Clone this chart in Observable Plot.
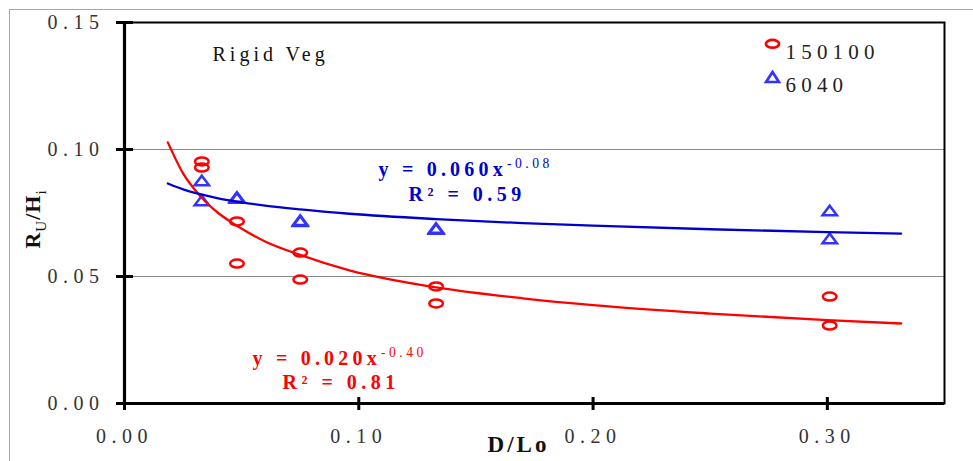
<!DOCTYPE html>
<html><head><meta charset="utf-8">
<script src="https://cdn.jsdelivr.net/npm/d3@7"></script>
<script src="https://cdn.jsdelivr.net/npm/@observablehq/plot@0.6"></script>
<style>
html,body{margin:0;padding:0;background:#fff;overflow:hidden;}
#wrap{position:relative;width:973px;height:461px;overflow:hidden;}
#border{position:absolute;left:9px;top:9px;width:1200px;height:800px;border-top:1.5px solid #a6a6a6;border-left:1.5px solid #a6a6a6;pointer-events:none;}
#wrap svg, #wrap svg text, #wrap svg tspan{font-family:'Liberation Serif','DejaVu Serif',serif !important;}
#wrap svg text{letter-spacing:5.5px;}
</style></head>
<body><div id="wrap"><div id="border"></div></div>
<script>
// ---- data ----
const seriesNames = ["150100", "6040"];
const x150100 = [0.033, 0.033, 0.048, 0.048, 0.075, 0.075, 0.133, 0.133, 0.301, 0.301];
const y150100 = [0.0953, 0.0929, 0.0717, 0.0551, 0.0594, 0.0488, 0.0461, 0.0394, 0.0421, 0.0307];
const x6040 = [0.033, 0.033, 0.048, 0.048, 0.075, 0.075, 0.133, 0.133, 0.301, 0.301];
const y6040 = [0.0878, 0.0799, 0.0813, 0.0809, 0.0722, 0.0718, 0.0691, 0.0687, 0.0760, 0.0650];
// trend lines (power fits)
const trendX = [0.0185, 0.025, 0.0323, 0.04, 0.048, 0.06, 0.075, 0.096, 0.133, 0.17, 0.2, 0.25, 0.3, 0.3315];
const trend150100 = [0.1028, 0.0906, 0.0817, 0.0750, 0.0700, 0.0638, 0.0585, 0.0524, 0.0457, 0.0414, 0.0387, 0.0354, 0.0328, 0.0315];
const trend6040 = [0.0866, 0.0843, 0.0824, 0.0808, 0.0795, 0.0779, 0.0764, 0.0747, 0.0726, 0.0710, 0.0700, 0.0686, 0.0675, 0.0669];
const xTicks = [0, 0.1, 0.2, 0.3];
const yTicks = [0, 0.05, 0.1, 0.15];
const gridTicks = [0.05, 0.1];
const panelLabel = "Rigid Veg";
const eq150100 = ["y = 0.020x^{-0.40}", "R² = 0.81"];
const eq6040 = ["y = 0.060x^{-0.08}", "R² = 0.59"];
const xLabel = "D/Lo";
const yLabel = "R_{U}/H_{i}";

// ---- build tables ----
const pts150100 = x150100.map((x, i) => ({x, y: y150100[i]}));
const pts6040 = x6040.map((x, i) => ({x, y: y6040[i]}));
const tr150100 = trendX.map((x, i) => ({x, y: trend150100[i]}));
const tr6040 = trendX.map((x, i) => ({x, y: trend6040[i]}));

const RED = "#ff0000", BLUE_LINE = "#0000cc", BLUE_MARK = "#3333ff";
const SERIF = "Liberation Serif, DejaVu Serif, serif";

function ellipseSym(rx, ry) {
  const k = 0.5523;
  return {draw(c) {
    c.moveTo(rx, 0);
    c.bezierCurveTo(rx, ry * k, rx * k, ry, 0, ry);
    c.bezierCurveTo(-rx * k, ry, -rx, ry * k, -rx, 0);
    c.bezierCurveTo(-rx, -ry * k, -rx * k, -ry, 0, -ry);
    c.bezierCurveTo(rx * k, -ry, rx, -ry * k, rx, 0);
    c.closePath();
  }};
}
function triSym(hw, hh) {
  return {draw(c) { c.moveTo(0, -hh); c.lineTo(hw, hh); c.lineTo(-hw, hh); c.closePath(); }};
}
const fmt2 = d3.format(".2f");

const plot = Plot.plot({
  width: 973, height: 461,
  marginLeft: 124, marginRight: 29, marginTop: 22, marginBottom: 58,
  style: {background: "white", overflow: "visible", fontFamily: SERIF},
  x: {domain: [0, 0.35], label: null},
  y: {domain: [0, 0.15], label: null},
  marks: [
    Plot.gridY(gridTicks, {stroke: "#8a8a8a", strokeOpacity: 1, strokeWidth: 1}),
    Plot.frame({stroke: "black", strokeWidth: 2}),
    Plot.ruleX([0], {stroke: "black", strokeWidth: 3.2}),
    Plot.ruleY([0], {stroke: "black", strokeWidth: 3}),
    Plot.axisY(yTicks, {label: null, tickSize: 8, tickPadding: 12, tickFormat: fmt2, fontSize: 20, fontFamily: SERIF, stroke: "black", fill: "#333", strokeWidth: 3}),
    Plot.axisY(yTicks, {label: null, tickSize: -9, tickFormat: () => "", stroke: "black", strokeWidth: 3}),
    Plot.axisX(xTicks, {label: null, tickSize: 7, tickPadding: 18, tickFormat: fmt2, fontSize: 20, fontFamily: SERIF, stroke: "black", fill: "#333", strokeWidth: 3}),
    Plot.axisX(xTicks, {label: null, tickSize: -6, tickFormat: () => "", stroke: "black", strokeWidth: 3}),
    Plot.dot(pts150100, {x: "x", y: "y", symbol: ellipseSym(6.8, 4.0), stroke: RED, strokeWidth: 2.5, fill: "none"}),
    Plot.dot(pts6040, {x: "x", y: "y", symbol: triSym(7.2, 4.8), stroke: BLUE_MARK, strokeWidth: 2.5, fill: "none"}),
    Plot.line(tr150100, {x: "x", y: "y", stroke: RED, strokeWidth: 2.3, curve: "monotone-x"}),
    Plot.line(tr6040, {x: "x", y: "y", stroke: BLUE_LINE, strokeWidth: 2.3, curve: "monotone-x"}),
    // panel label
    Plot.text([panelLabel], {text: d => d, frameAnchor: "top-left", textAnchor: "start", dx: 88, dy: 24.4, fontSize: 20, fontFamily: SERIF, fill: "#111"}),
    // legend
    Plot.dot([seriesNames[0]], {frameAnchor: "top-right", dx: -172, dy: 21.3, symbol: ellipseSym(6.6, 3.9), stroke: RED, strokeWidth: 2.7, fill: "none"}),
    Plot.dot([seriesNames[1]], {frameAnchor: "top-right", dx: -172, dy: 54.5, symbol: triSym(6.4, 5.0), stroke: BLUE_MARK, strokeWidth: 2.7, fill: "none"}),
    Plot.text([seriesNames[0]], {text: d => d, frameAnchor: "top-right", textAnchor: "start", dx: -159, dy: 21.5, fontSize: 21, fontFamily: SERIF, fill: "#222"}),
    Plot.text([seriesNames[1]], {text: d => d, frameAnchor: "top-right", textAnchor: "start", dx: -159, dy: 55, fontSize: 21, fontFamily: SERIF, fill: "#222"}),
    // equations
    Plot.text([eq6040[0]], {text: d => d, frameAnchor: "top-left", textAnchor: "start", dx: 254, dy: 139.3, fontSize: 20, fontWeight: "bold", fontFamily: SERIF, fill: BLUE_LINE}),
    Plot.text([eq6040[1]], {text: d => d, frameAnchor: "top-left", textAnchor: "start", dx: 284, dy: 164.3, fontSize: 20, fontWeight: "bold", fontFamily: SERIF, fill: BLUE_LINE}),
    Plot.text([eq150100[0]], {text: d => d, frameAnchor: "top-left", textAnchor: "start", dx: 128, dy: 328.5, fontSize: 20, fontWeight: "bold", fontFamily: SERIF, fill: RED}),
    Plot.text([eq150100[1]], {text: d => d, frameAnchor: "top-left", textAnchor: "start", dx: 158, dy: 352, fontSize: 20, fontWeight: "bold", fontFamily: SERIF, fill: RED}),
    // axis titles
    Plot.text([xLabel], {text: d => d, frameAnchor: "bottom", textAnchor: "middle", dx: -16, dy: 48, fontSize: 23, fontWeight: "bold", fontFamily: SERIF, fill: "#111"}),
    Plot.text([yLabel], {text: d => d, frameAnchor: "left", textAnchor: "middle", rotate: -90, dx: -91.5, dy: 6, fontSize: 22, fontWeight: "bold", fontFamily: SERIF, fill: "#111"})
  ]
});
document.getElementById("wrap").prepend(plot);

// letter spacing per text, and super/subscripts as tspans
const spacing = new Map([
  [panelLabel, 4], [seriesNames[0], 5.2], [seriesNames[1], 5.2],
  [eq6040[0], 4.2], [eq6040[1], 4.5], [eq150100[0], 4.2], [eq150100[1], 4.5],
  [xLabel, 3], [yLabel, 1]
]);
d3.select(plot).selectAll("text").each(function() {
  const s = this.textContent;
  if (spacing.has(s)) this.style.letterSpacing = spacing.get(s) + "px";
  if (!/[\^_]\{/.test(s)) return;
  const fs = parseFloat(getComputedStyle(this).fontSize) || 20;
  const el = d3.select(this);
  el.text(null);
  let shift = 0;
  for (const p of s.split(/([\^_]\{[^}]*\})/).filter(p => p)) {
    const m = p.match(/^([\^_])\{(.*)\}$/);
    const t = el.append("tspan");
    if (m) {
      const d = m[1] === "^" ? -0.42 * fs : 0.28 * fs;
      t.attr("dy", d - shift).attr("font-size", 0.68 * fs).attr("font-weight", "normal")
        .style("letter-spacing", m[1] === "^" ? "3.5px" : "1px").text(m[2]);
      shift = d;
    } else {
      t.attr("dy", -shift).text(p);
      shift = 0;
    }
  }
});
</script>
</body></html>
